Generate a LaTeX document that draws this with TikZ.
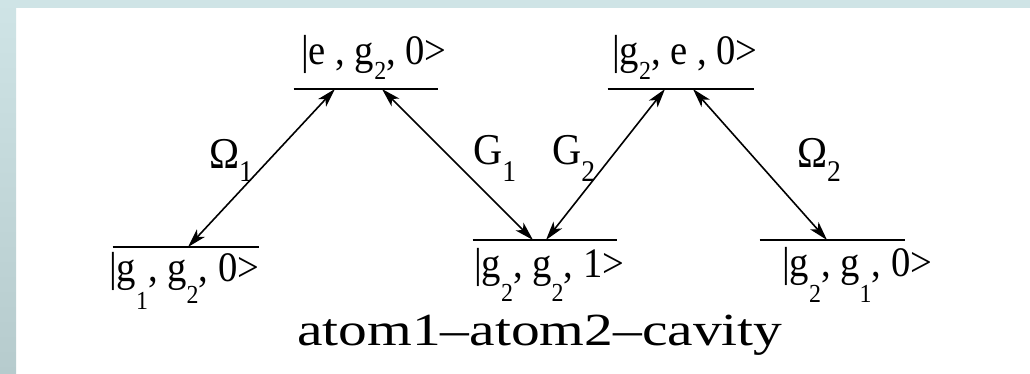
\documentclass[tikz,border=0pt]{standalone}
\usepackage{fontspec}
\setmainfont{Liberation Serif}
\newfontfamily\labelfont{Liberation Serif}[FakeStretch=0.92]
\newfontfamily\titlefont{Liberation Serif}[FakeStretch=1.25]
\usepackage{xcolor}
\definecolor{frametop}{HTML}{CFE4E6}
\definecolor{framebot}{HTML}{B6CBCD}
\usetikzlibrary{arrows.meta}
\newcommand{\lsub}[3][13]{\raisebox{-#2}{\fontsize{#1}{#1}\selectfont #3}}

\begin{document}
\begin{tikzpicture}[x=0.5pt, y=-0.5pt, font=\labelfont\fontsize{21}{24}\selectfont,
  lvl/.style={line width=1pt},
  lvlnode/.style={inner sep=0pt, minimum height=0pt},
  trans/.style={line width=0.8pt, {Stealth[length=9.5pt,width=5.5pt,inset=2.5pt]}-{Stealth[length=9.5pt,width=5.5pt,inset=2.5pt]}}]
  \useasboundingbox (0,0) rectangle (1030,374);
  \fill[white] (0,0) rectangle (1030,374);
  \fill[frametop] (0,0) rectangle (1030,8);
  \shade[top color=frametop, bottom color=framebot] (0,0) rectangle (16,374);

  \node[lvlnode, minimum width=72pt]   (eg20) at (366,89) {};
  \node[lvlnode, minimum width=73pt]   (g2e0) at (681,89) {};
  \node[lvlnode, minimum width=73pt]   (g1g20) at (186,247) {};
  \node[lvlnode, minimum width=72pt]   (g2g21) at (545,240) {};
  \node[lvlnode, minimum width=72.5pt] (g2g10) at (832.5,240) {};
  \foreach \lv in {eg20, g2e0, g1g20, g2g21, g2g10}
    \draw[lvl] (\lv.west) -- (\lv.east);

  \node[anchor=base west] (eg20-lab)  at (294,65)  {|e , g\lsub{7.5pt}{2}, 0>};
  \node[anchor=base west] (g2e0-lab)  at (605,65)  {|g\lsub{7.5pt}{2}, e , 0>};
  \node[anchor=base west] (g1g20-lab) at (102,282) {|g\lsub{14pt}{1}, g\lsub{11pt}{2}, 0>};
  \node[anchor=base west] (g2g21-lab) at (467,278) {|g\lsub{12pt}{2}, g\lsub{12pt}{2}, 1>};
  \node[anchor=base west] (g2g10-lab) at (775,277) {|g\lsub{13pt}{2}, g\lsub{13pt}{1}, 0>};

  \coordinate (g1g20-r) at (188,247);
  \coordinate (eg20-l)  at (335,89);
  \coordinate (eg20-r)  at (382,89);
  \coordinate (g2g21-l) at (533,240);
  \coordinate (g2g21-r) at (546,240);
  \coordinate (g2e0-l)  at (665,89);
  \coordinate (g2e0-r)  at (693,89);
  \coordinate (g2g10-l) at (827,240);

  \draw[trans] (g1g20-r) -- (eg20-l);
  \draw[trans] (eg20-r) -- (g2g21-l);
  \draw[trans] (g2g21-r) -- (g2e0-l);
  \draw[trans] (g2e0-r) -- (g2g10-l);

  \node[anchor=base west, font=\labelfont\fontsize{22}{24}\selectfont] (om1) at (202,169) {Ω\lsub[15]{6.5pt}{1}};
  \node[anchor=base west, font=\labelfont\fontsize{22}{24}\selectfont] (co1) at (466,165) {G\lsub[15]{8.5pt}{1}};
  \node[anchor=base west, font=\labelfont\fontsize{22}{24}\selectfont] (co2) at (545,165) {G\lsub[15]{8.5pt}{2}};
  \node[anchor=base west, font=\labelfont\fontsize{22}{24}\selectfont] (om2) at (790,168) {Ω\lsub[15]{7pt}{2}};

  \node[anchor=base west, font=\titlefont\fontsize{23}{26}\selectfont] (caption) at (290,345) {atom1–atom2–cavity};
\end{tikzpicture}
\end{document}
